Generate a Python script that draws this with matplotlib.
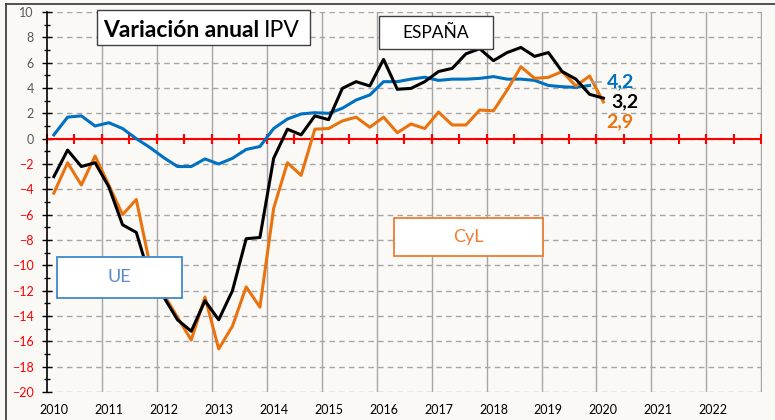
"""
Variación anual IPV : UE, España, Castilla y León (trimestral, 2010-2020).
"""

import matplotlib
matplotlib.use("Agg")
import matplotlib.pyplot as plt
import numpy as np
from matplotlib.lines import Line2D
from matplotlib.patches import Rectangle

W, H = 775, 420

years = list(range(2010, 2023))

# variación anual (%) por trimestre desde 2010T1
ue = [0.3, 1.7, 1.8, 1.0, 1.26, 0.8, 0.0, -0.7, -1.5, -2.2,
      -2.2, -1.6, -2.0, -1.55, -0.85, -0.62, 0.8, 1.55, 1.95, 2.05,
      2.0, 2.4, 3.05, 3.45, 4.5, 4.5, 4.7, 4.85, 4.6, 4.7,
      4.7, 4.76, 4.9, 4.7, 4.7, 4.6, 4.2, 4.1, 4.05, 4.2]
espana = [-3.0, -0.9, -2.2, -1.9, -3.8, -6.8, -7.4, -11.0, -12.5, -14.3,
          -15.2, -12.8, -14.3, -12.0, -7.9, -7.8, -1.55, 0.75, 0.3, 1.8,
          1.5, 3.97, 4.5, 4.16, 6.26, 3.9, 3.97, 4.5, 5.3, 5.55,
          6.7, 7.1, 6.16, 6.8, 7.2, 6.5, 6.8, 5.3, 4.7, 3.5, 3.2]
cyl = [-4.3, -1.9, -3.66, -1.37, -3.66, -6.0, -4.8, -10.0, -12.3, -14.1,
       -15.9, -12.5, -16.6, -14.8, -11.7, -13.3, -5.5, -1.9, -2.9, 0.75,
       0.8, 1.4, 1.7, 0.9, 1.7, 0.47, 1.16, 0.8, 2.1, 1.08,
       1.08, 2.26, 2.2, 3.84, 5.68, 4.76, 4.84, 5.3, 4.16, 4.95, 2.9]

BLUE = "#0070C0"
ORANGE = "#E8730F"
BG = "#FAF9F6"
GRID = "#A6A6A6"

plt.rcParams["font.family"] = ["Lato", "DejaVu Sans"]


def px(x, y):
    """pixeles de la imagen -> fracción de figura"""
    return x / W, 1 - y / H


def text_box(fig, x0, y0, x1, y1, label, edge, color, size=13, lw=1.0):
    fx0, fy0 = px(x0, y1)
    fx1, fy1 = px(x1, y0)
    fig.add_artist(Rectangle((fx0, fy0), fx1 - fx0, fy1 - fy0,
                             transform=fig.transFigure, facecolor="white",
                             edgecolor=edge, lw=lw, zorder=5))
    fig.text(*px((x0 + x1) / 2, (y0 + y1) / 2), label, ha="center",
             va="center", color=color, fontsize=size, zorder=6)


def main():
    fig = plt.figure(figsize=(W / 100, H / 100), dpi=100, facecolor=BG)
    ax = fig.add_axes([47 / W, 1 - 392 / H, (762 - 47) / W, (392 - 12) / H],
                      facecolor=BG)

    n_q = 4 * len(years)
    ax.set_xlim(-0.5, n_q - 0.45)
    ax.set_ylim(-20, 10)

    # --- grid & ejes ---
    ax.set_yticks(range(-20, 11, 2))
    ax.set_yticks(range(-19, 10, 2), minor=True)
    ax.set_xticks([4 * k for k in range(len(years))], [str(y) for y in years])
    ax.set_xticks([4 * k - 0.5 for k in range(1, len(years) + 1)], minor=True)
    ax.grid(axis="y", which="major", ls=(0, (4, 3)), color=GRID, lw=1)
    ax.grid(axis="x", which="minor", ls="-", color=GRID, lw=1)
    ax.set_axisbelow(True)

    ax.tick_params(axis="y", which="major", direction="inout", length=7,
                   width=1, pad=6, labelsize=9)
    ax.tick_params(axis="y", which="minor", direction="inout", length=4, width=1)
    ax.tick_params(axis="x", which="both", length=0, pad=9, labelsize=9)
    for val, lab in zip(ax.get_yticks(), ax.get_yticklabels()):
        lab.set_color("red" if val < 0 else "#595959")

    for side in ("top", "right", "bottom"):
        ax.spines[side].set_visible(False)
    ax.spines["left"].set_linewidth(1.2)

    # eje horizontal en 0 (rojo, marcas cada 2 trimestres)
    ax.axhline(0, color="red", lw=1.5, zorder=2)
    tick_x = np.arange(-0.5, n_q, 2)
    ax.plot(tick_x, np.zeros_like(tick_x), ls="none", marker="|", ms=7,
            mew=1.5, color="red", zorder=2, clip_on=False)

    # --- series ---
    ax.plot(np.arange(len(ue)), ue, color=BLUE, lw=2.2, zorder=3)
    ax.plot(np.arange(len(cyl)), cyl, color=ORANGE, lw=2.2, zorder=3)
    ax.plot(np.arange(len(espana)), espana, color="black", lw=2.2, zorder=4)

    # etiquetas del último dato
    labels = [(ue, BLUE, (17, 4)), (espana, "black", (8, -4)), (cyl, ORANGE, (3, -20))]
    for vals, color, off in labels:
        txt = f"{vals[-1]:.1f}".replace(".", ",")
        ax.annotate(txt, xy=(len(vals) - 1, vals[-1]), xytext=off,
                    textcoords="offset pixels", ha="left", va="center",
                    color=color, fontsize=14, fontweight="bold", zorder=5)
    ax.plot([len(ue) - 0.8, len(ue) - 0.15], [ue[-1] + 0.3, ue[-1] + 0.3],
            color=GRID, lw=1.2, zorder=3)

    # --- cajas de texto ---
    text_box(fig, 379, 16, 493, 49, "ESPAÑA", "#404040", "black", size=12.5)
    text_box(fig, 57, 257, 182, 298, "UE", "#3F8ACB", "#5B8BC8", size=13, lw=1.3)
    text_box(fig, 394, 218, 543, 256, "CyL", "#ED7D31", "#ED7D31", size=13, lw=1.3)

    # título: "Variación anual" en negrita + "IPV"
    x0, y0 = px(97, 45)
    x1, y1 = px(310, 10)
    fig.add_artist(Rectangle((x0, y0), x1 - x0, y1 - y0, transform=fig.transFigure,
                             facecolor="white", edgecolor="#404040", lw=1, zorder=5))
    t1 = fig.text(*px(103, 37), "Variación anual", fontsize=16.5,
                  fontweight="bold", va="baseline", zorder=6)
    fig.canvas.draw()
    bb = t1.get_window_extent()
    fig.text(bb.x1 / W + 5 / W, 1 - 37 / H, "IPV", fontsize=16.5,
             va="baseline", zorder=6)

    # borde del gráfico original
    fig.add_artist(Line2D([6 / W, 6 / W], [0, 1 - 3.5 / H], color="#333333", lw=1.2))
    fig.add_artist(Line2D([6 / W, 1], [1 - 3.5 / H, 1 - 3.5 / H], color="#333333", lw=1.2))

    fig.savefig("out.png", dpi=100, facecolor=BG)


if __name__ == "__main__":
    main()
